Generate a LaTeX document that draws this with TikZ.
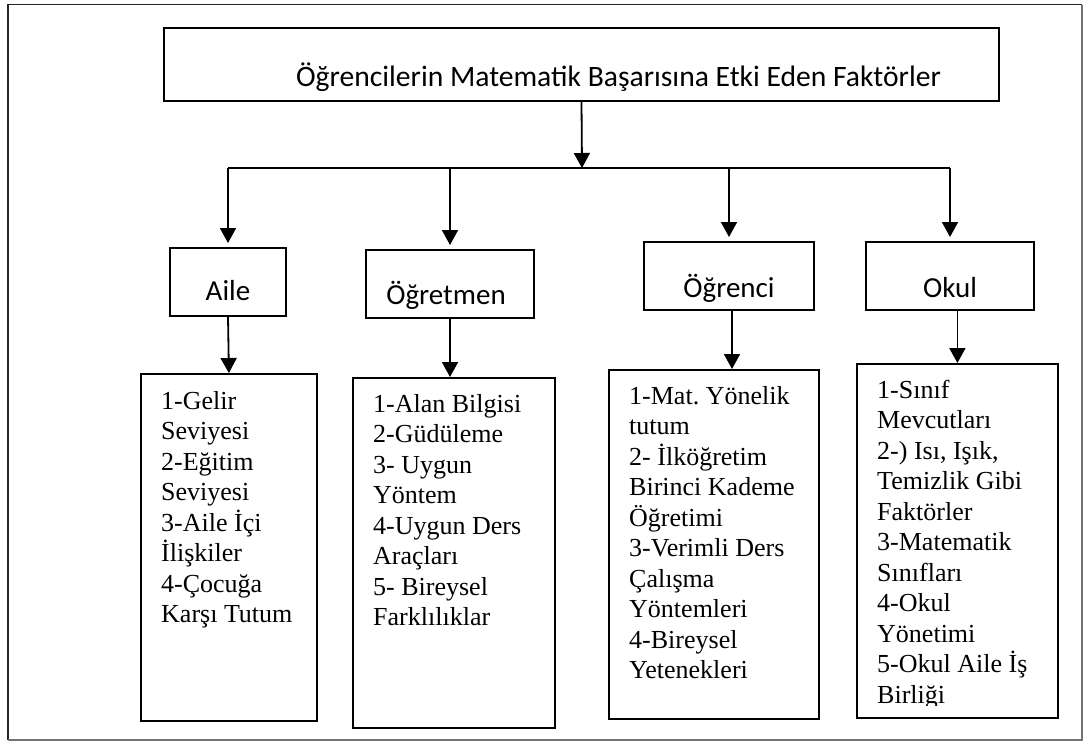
\documentclass[tikz,border=0pt]{standalone}
\usepackage{fontspec}
\setmainfont{Liberation Serif}
\newfontfamily\calibri{Carlito}
\usetikzlibrary{arrows.meta}

\begin{document}
\begin{tikzpicture}[
    x=1pt,y=1pt,
    headbox/.style={draw,line width=1.8pt,inner sep=0pt,anchor=north,
      font=\calibri\fontsize{29}{34}\selectfont},
    listbox/.style={draw,line width=1.8pt,inner sep=0pt,anchor=north west},
    listtext/.style={anchor=base west,inner sep=0pt,align=flush left,text width=200pt,
      font=\fontsize{26}{30.5}\selectfont\frenchspacing},
    link/.style={line width=1.8pt},
    flow/.style={-{Triangle[length=15pt,width=16pt]},line width=1.8pt}
  ]
    \useasboundingbox (0,0) rectangle (1084,-742);
    % outer frame
    \draw[line width=1.8pt,black!85] (8,-740) |- (1082,-4.5);
    \draw[line width=1.8pt,black!55] (1082,-4.5) |- (8,-740);

    \node[headbox,minimum width=835,text height=59,text depth=14,
      font=\calibri\fontsize{29.6}{34}\selectfont] (title) at (581.5,-27)
      {\hspace*{74pt}Öğrencilerin Matematik Başarısına Etki Eden Faktörler};

    \node[headbox,minimum width=116,text height=53,text depth=15] (aile) at (228,-247) {Aile};
    \node[headbox,minimum width=168,text height=55,text depth=13] (ogretmen) at (450,-249) {Öğretmen\hspace*{8pt}};
    \node[headbox,minimum width=170,text height=56,text depth=12] (ogrenci) at (729,-241) {Öğrenci};
    \node[headbox,minimum width=168,text height=56,text depth=12] (okul) at (950,-241) {Okul};

    \node[listbox,minimum width=176,minimum height=347] (aileL) at (140,-373) {};
    \node[listbox,minimum width=202,minimum height=350] (ogretmenL) at (352,-377) {};
    \node[listbox,minimum width=210,minimum height=349] (ogrenciL) at (608,-369) {};
    \node[listbox,minimum width=201,minimum height=354] (okulL) at (856,-363) {};

    \node[listtext] (aileT) at ([shift={(21,-36)}]aileL.north west)
      {1-Gelir\\Seviyesi\\2-Eğitim\\Seviyesi\\3-Aile İçi\\İlişkiler\\4-Çocuğa\\Karşı Tutum};
    \node[listtext] (ogretmenT) at ([shift={(21,-35)}]ogretmenL.north west)
      {1-Alan Bilgisi\\2-Güdüleme\\3- Uygun\\Yöntem\\4-Uygun Ders\\Araçları\\5- Bireysel\\Farklılıklar};
    \node[listtext] (ogrenciT) at ([shift={(21,-35)}]ogrenciL.north west)
      {1-Mat. Yönelik\\tutum\\2- İlköğretim\\Birinci Kademe\\Öğretimi\\3-Verimli Ders\\Çalışma\\Yöntemleri\\4-Bireysel\\Yetenekleri};
    % last line is cut by the box, as in the source
    \begin{scope}
      \clip (okulL.north west) rectangle ([yshift=13]okulL.south east);
      \node[listtext] (okulT) at ([shift={(21,-35)}]okulL.north west)
        {1-Sınıf\\Mevcutları\\2-) Isı, Işık,\\Temizlik Gibi\\Faktörler\\3-Matematik\\Sınıfları\\4-Okul\\Yönetimi\\5-Okul Aile İş\\Birliği};
    \end{scope}

    \coordinate (bar) at (582,-168);
    \draw[flow] (title.south) -- (bar);
    \draw[link] (aile.north |- bar) -- (okul.north |- bar);
    \foreach \n in {aile,ogretmen,ogrenci,okul}
      \draw[flow,shorten >=4pt] (\n.north |- bar) -- (\n.north);

    \draw[flow] (aile.south) -- (aileL.north);
    \draw[flow] (ogretmen.south) -- (ogretmen.south |- ogretmenL.north);
    \draw[flow] ([xshift=3]ogrenci.south) -- ([xshift=3]ogrenci.south |- ogrenciL.north);
    \draw[flow] (okulL.north |- okul.south) -- (okulL.north);
  \end{tikzpicture}
\end{document}
